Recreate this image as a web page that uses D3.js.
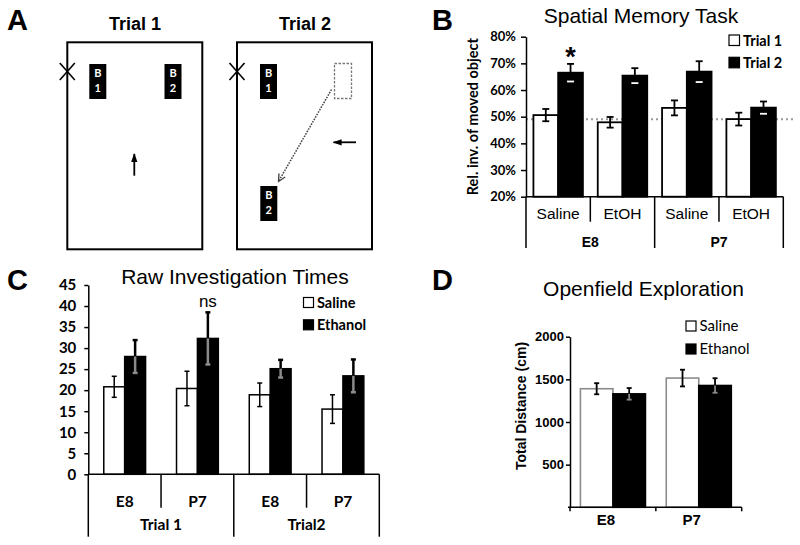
<!DOCTYPE html>
<html><head><meta charset="utf-8">
<script src="https://cdn.jsdelivr.net/npm/d3@7"></script>
<style>body{margin:0;background:#fff}svg{display:block}</style>
</head><body>
<svg id="c" width="800" height="545"></svg>
<script>
// ---------------- DATA ----------------
// Panel B: Spatial Memory Task (% relative investigation of moved object)
const bAges = ["E8", "P7"];
const bTreatments = ["Saline", "EtOH"];
const bSeries = ["Trial 1", "Trial 2"];
const bTrial1 = [50.6, 47.9, 53.3, 49.1];
const bTrial1Err = [2.3, 2.0, 2.8, 2.4];
const bTrial2 = [66.5, 65.4, 66.9, 53.4];
const bTrial2Err = [3.3, 2.8, 3.9, 2.3];
const bTicks = [20, 30, 40, 50, 60, 70, 80];
const bChance = 49;
const bAnnot = ["*", "", "", ""];
// Panel C: Raw Investigation Times
const cTrials = ["Trial 1", "Trial2"];
const cAges = ["E8", "P7"];
const cSeries = ["Saline", "Ethanol"];
const cSaline = [20.8, 20.4, 18.9, 15.5];
const cSalineErr = [2.5, 4.1, 2.8, 3.4];
const cEthanol = [28.0, 32.3, 25.1, 23.4];
const cEthanolErr = [3.9, 6.2, 2.1, 3.9];
const cTicks = [0, 5, 10, 15, 20, 25, 30, 35, 40, 45];
const cAnnot = ["", "ns", "", ""];
// Panel D: Openfield Exploration (total distance, cm)
const dAges = ["E8", "P7"];
const dSeries = ["Saline", "Ethanol"];
const dSaline = [1390, 1515];
const dSalineErr = [65, 98];
const dEthanol = [1330, 1428];
const dEthanolErr = [68, 85];
const dTicks = [500, 1000, 1500, 2000];

// ---------------- SETUP ----------------
const ARIAL = "'Liberation Sans', Arial, Helvetica, sans-serif";
const CAL = "Lato, 'Open Sans', sans-serif";
const svg = d3.select("#c");

function txt(g, x, y, s, o) {
  o = o || {};
  return g.append("text").attr("x", x).attr("y", y).text(s)
    .attr("font-family", o.family || ARIAL)
    .attr("font-size", o.size || 14)
    .attr("font-weight", o.weight || "normal")
    .attr("text-anchor", o.anchor || "middle")
    .attr("fill", o.fill || "#000");
}
function line(g, x1, y1, x2, y2, c, w) {
  return g.append("line").attr("x1", x1).attr("y1", y1).attr("x2", x2).attr("y2", y2)
    .attr("stroke", c || "#000").attr("stroke-width", w || 1.5);
}
// error bar: whisker above bar black; part inside bar in innerColor
function errBar(g, cx, yHi, yLo, yBar, capW, outer, inner, innerCap, w) {
  line(g, cx, yHi, cx, yBar, outer, w);
  line(g, cx - capW / 2, yHi, cx + capW / 2, yHi, outer, w);
  line(g, cx, yBar, cx, yLo, inner, w);
  line(g, cx - capW / 2, yLo, cx + capW / 2, yLo, innerCap, w);
}
function styleAxis(g, family, size, weight) {
  g.attr("font-family", family).attr("font-size", size).attr("font-weight", weight);
  g.select(".domain").attr("stroke", "#000").attr("stroke-width", 1.5);
  g.selectAll(".tick line").attr("stroke", "#000").attr("stroke-width", 1.5);
  g.selectAll(".tick text").attr("fill", "#000");
}

// ---------------- PANEL A (schematic) ----------------
const gA = svg.append("g");
txt(gA, 7, 30, "A", { size: 29, weight: "bold", anchor: "start" });
txt(gA, 135, 30, "Trial 1", { size: 18, weight: "bold" });
txt(gA, 305, 30, "Trial 2", { size: 18, weight: "bold" });
svg.append("defs").call(df => {
  df.append("marker").attr("id", "ah").attr("viewBox", "0 0 10 10").attr("refX", 9).attr("refY", 5)
    .attr("markerWidth", 9).attr("markerHeight", 9).attr("markerUnits", "userSpaceOnUse").attr("orient", "auto")
    .append("path").attr("d", "M0,1.5 L10,5 L0,8.5 Z").attr("fill", "#000");
  df.append("marker").attr("id", "ao").attr("viewBox", "0 0 10 10").attr("refX", 9).attr("refY", 5)
    .attr("markerWidth", 9).attr("markerHeight", 9).attr("markerUnits", "userSpaceOnUse").attr("orient", "auto")
    .append("path").attr("d", "M1,1 L9,5 L1,9").attr("fill", "none").attr("stroke", "#444").attr("stroke-width", 1.5);
});
function arena(x0) {
  gA.append("rect").attr("x", x0).attr("y", 42.3).attr("width", 135).attr("height", 207)
    .attr("fill", "none").attr("stroke", "#000").attr("stroke-width", 2);
  line(gA, x0 - 7.5, 63, x0 + 7.5, 80, "#000", 1.6);
  line(gA, x0 - 7.5, 80, x0 + 7.5, 63, "#000", 1.6);
}
function block(x, y, n) {
  gA.append("rect").attr("x", x).attr("y", y).attr("width", 17).attr("height", 35).attr("fill", "#000");
  txt(gA, x + 8.5, y + 13, "B", { size: 11, weight: "bold", family: CAL, fill: "#fff" });
  txt(gA, x + 8.5, y + 28, n, { size: 11, weight: "bold", family: CAL, fill: "#fff" });
}
arena(67.3); arena(237);
block(89.3, 64, "1"); block(164.5, 64, "2");
block(260, 64, "1"); block(260.3, 186, "2");
gA.append("rect").attr("x", 334.5).attr("y", 63.5).attr("width", 17).attr("height", 35)
  .attr("fill", "none").attr("stroke", "#777").attr("stroke-width", 1.3).attr("stroke-dasharray", "2.5,1.5");
line(gA, 331.5, 89.5, 278.5, 181.5, "#444", 1.5).attr("stroke-dasharray", "1.6,1.2").attr("marker-end", "url(#ao)");
line(gA, 356, 142.3, 333.5, 142.3, "#000", 1.8).attr("marker-end", "url(#ah)");
line(gA, 134.3, 175.7, 134.3, 154, "#000", 1.8).attr("marker-end", "url(#ah)");

// ---------------- PANEL B ----------------
const gB = svg.append("g");
txt(gB, 432, 30, "B", { size: 29, weight: "bold", anchor: "start" });
txt(gB, 641, 23, "Spatial Memory Task", { size: 21 });
const bCells = d3.cross(bAges, bTreatments).map(d => d.join("|"));
const bx = d3.scaleBand().domain(bCells).range([526, 783.3]).padding(0);
const bxi = d3.scaleBand().domain(bSeries).range([0, bx.bandwidth()]).paddingInner(0).paddingOuter(0.3);
const by = d3.scaleLinear().domain([20, 80]).range([196.7, 36.7]);
// chance line
line(gB, 526, by(bChance), 793, by(bChance), "#999", 2).attr("stroke-dasharray", "2,3");
bCells.forEach((c, i) => {
  const vals = [bTrial1[i], bTrial2[i]], errs = [bTrial1Err[i], bTrial2Err[i]];
  bSeries.forEach((s, j) => {
    const x = bx(c) + bxi(s), w = bxi.bandwidth(), v = vals[j];
    gB.append("rect").attr("x", x).attr("y", by(v)).attr("width", w).attr("height", by(20) - by(v))
      .attr("fill", j ? "#000" : "#fff").attr("stroke", "#000").attr("stroke-width", 1.8);
    const cx = x + w / 2;
    if (j === 0) errBar(gB, cx, by(v + errs[j]), by(v - errs[j]), by(v), 7, "#000", "#000", "#000", 1.8);
    else errBar(gB, cx, by(v + errs[j]), by(v - errs[j]), by(v), 7, "#000", "#000", "#fff", 1.8);
  });
  if (bAnnot[i]) txt(gB, bx(c) + bxi("Trial 2") + bxi.bandwidth() / 2, 66, bAnnot[i], { size: 27, weight: "bold" });
});
gB.append("g").attr("transform", "translate(526,0)")
  .call(d3.axisLeft(by).tickValues(bTicks).tickFormat(d => d + "%").tickSize(5).tickSizeOuter(0).tickPadding(5))
  .call(g => styleAxis(g, CAL, 13, "bold"));
line(gB, 526, by(20), 783.3, by(20));
d3.range(bCells.length + 1).forEach(k => {
  const x = 526 + k * bx.step();
  line(gB, x, by(20), x, k % 2 === 0 ? 248 : 221.7);
});
bCells.forEach((c, i) => txt(gB, bx(c) + bx.bandwidth() / 2, 219.3, bTreatments[i % 2], { size: 15.5 }));
bAges.forEach((a, i) => txt(gB, 526 + (i * 2 + 1) * bx.step(), 246.7, a, { size: 14, weight: "bold" }));
txt(gB, 0, 0, "Rel. inv. of moved object", { size: 14.5, weight: "bold", family: CAL })
  .attr("transform", `translate(478,${(by(20) + by(80)) / 2}) rotate(-90)`);
// legend
bSeries.forEach((s, j) => {
  const y = 35 + j * 22.3;
  gB.append("rect").attr("x", 729).attr("y", y).attr("width", 10.5).attr("height", 10.5)
    .attr("fill", j ? "#000" : "#fff").attr("stroke", "#000").attr("stroke-width", 1.2);
  txt(gB, 743, y + 10.5, s, { size: 14.5, weight: "bold", family: CAL, anchor: "start" });
});

// ---------------- PANEL C ----------------
const gC = svg.append("g");
txt(gC, 7, 290, "C", { size: 29, weight: "bold", anchor: "start" });
txt(gC, 235, 283.5, "Raw Investigation Times", { size: 21 });
const cCells = d3.cross(cTrials, cAges).map(d => d.join("|"));
const cx0 = 88.3;
const cxS = d3.scaleBand().domain(cCells).range([cx0, 379.3]).padding(0);
const cxi = d3.scaleBand().domain(cSeries).range([0, cxS.bandwidth()]).paddingInner(0).paddingOuter(0.74);
const cy = d3.scaleLinear().domain([0, 45]).range([474.3, 285]);
cCells.forEach((c, i) => {
  const vals = [cSaline[i], cEthanol[i]], errs = [cSalineErr[i], cEthanolErr[i]];
  cSeries.forEach((s, j) => {
    const x = cxS(c) + cxi(s), w = cxi.bandwidth(), v = vals[j];
    gC.append("rect").attr("x", x).attr("y", cy(v)).attr("width", w).attr("height", cy(0) - cy(v))
      .attr("fill", j ? "#000" : "#fff").attr("stroke", "#000").attr("stroke-width", 1.5);
    const mx = x + w / 2;
    if (j === 0) errBar(gC, mx, cy(v + errs[j]), cy(v - errs[j]), cy(v), 5, "#000", "#000", "#000", 1.5);
    else errBar(gC, mx, cy(v + errs[j]), cy(v - errs[j]), cy(v), 5, "#000", "#8a8a8a", "#8a8a8a", 2.5);
  });
  if (cAnnot[i]) txt(gC, cxS(c) + cxi("Ethanol") + cxi.bandwidth() / 2, 306.7, cAnnot[i], { size: 17 });
});
gC.append("g").attr("transform", `translate(${cx0},0)`)
  .call(d3.axisLeft(cy).tickValues(cTicks).tickSize(4).tickSizeOuter(0).tickPadding(8))
  .call(g => styleAxis(g, CAL, 15, "bold"));
line(gC, cx0, cy(0), 379.3, cy(0));
d3.range(cCells.length + 1).forEach(k => {
  const x = cx0 + k * cxS.step();
  line(gC, x, cy(0), x, k % 2 === 0 ? 536.7 : 507.7);
});
cCells.forEach((c, i) => txt(gC, cxS(c) + cxS.bandwidth() / 2, 506.7, cAges[i % 2], { size: 15.5, weight: "bold", family: CAL }));
cTrials.forEach((t, i) => txt(gC, cx0 + (i * 2 + 1) * cxS.step(), 529.5, t, { size: 15.5, weight: "bold", family: CAL }));
cSeries.forEach((s, j) => {
  const y = 297.5 + j * 22.3;
  gC.append("rect").attr("x", 303.5).attr("y", y).attr("width", 10).attr("height", 10)
    .attr("fill", j ? "#000" : "#fff").attr("stroke", "#000").attr("stroke-width", 1.2);
  txt(gC, 317, y + 10, s, { size: 14.5, weight: "bold", family: CAL, anchor: "start" });
});

// ---------------- PANEL D ----------------
const gD = svg.append("g");
txt(gD, 432, 290, "D", { size: 29, weight: "bold", anchor: "start" });
txt(gD, 643.5, 296, "Openfield Exploration", { size: 21 });
const dx = d3.scaleBand().domain(dAges).range([570, 741.7]).padding(0);
const dxi = d3.scaleBand().domain(dSeries).range([0, dx.bandwidth()]).paddingInner(0).paddingOuter(0.32);
const dy = d3.scaleLinear().domain([0, 2000]).range([507.3, 336.7]);
dAges.forEach((a, i) => {
  const vals = [dSaline[i], dEthanol[i]], errs = [dSalineErr[i], dEthanolErr[i]];
  dSeries.forEach((s, j) => {
    const x = dx(a) + dxi(s), w = dxi.bandwidth(), v = vals[j];
    gD.append("rect").attr("x", x).attr("y", dy(v)).attr("width", w).attr("height", dy(0) - dy(v))
      .attr("fill", j ? "#000" : "#fff").attr("stroke", j ? "#000" : "#8c8c8c").attr("stroke-width", 1.6);
    const mx = x + w / 2;
    if (j === 0) errBar(gD, mx, dy(v + errs[j]), dy(v - errs[j]), dy(v), 5, "#000", "#000", "#000", 1.8);
    else errBar(gD, mx, dy(v + errs[j]), dy(v - errs[j]), dy(v), 5, "#000", "#8a8a8a", "#8a8a8a", 1.8);
  });
});
gD.append("g").attr("transform", "translate(570,0)")
  .call(d3.axisLeft(dy).tickValues(dTicks).tickFormat(d3.format("d")).tickSize(4).tickSizeOuter(0).tickPadding(2))
  .call(g => styleAxis(g, ARIAL, 13, "bold"));
line(gD, 568, dy(0), 741.7, dy(0));
d3.range(dAges.length + 1).forEach(k => {
  const x = 570 + k * dx.step();
  line(gD, x, dy(0), x, dy(0) + 4);
});
dAges.forEach(a => txt(gD, dx(a) + dx.bandwidth() / 2 - 7, 525, a, { size: 15, weight: "bold" }));
txt(gD, 0, 0, "Total Distance (cm)", { size: 14, weight: "bold" })
  .attr("transform", `translate(526,406) rotate(-90)`);
dSeries.forEach((s, j) => {
  const y = 321 + j * 23;
  gD.append("rect").attr("x", 686).attr("y", y).attr("width", 10).attr("height", 10)
    .attr("fill", j ? "#000" : "#fff").attr("stroke", "#000").attr("stroke-width", 1.2);
  txt(gD, 699.5, y + 9.5, s, { size: 15, family: CAL, anchor: "start" });
});
</script>
</body></html>
